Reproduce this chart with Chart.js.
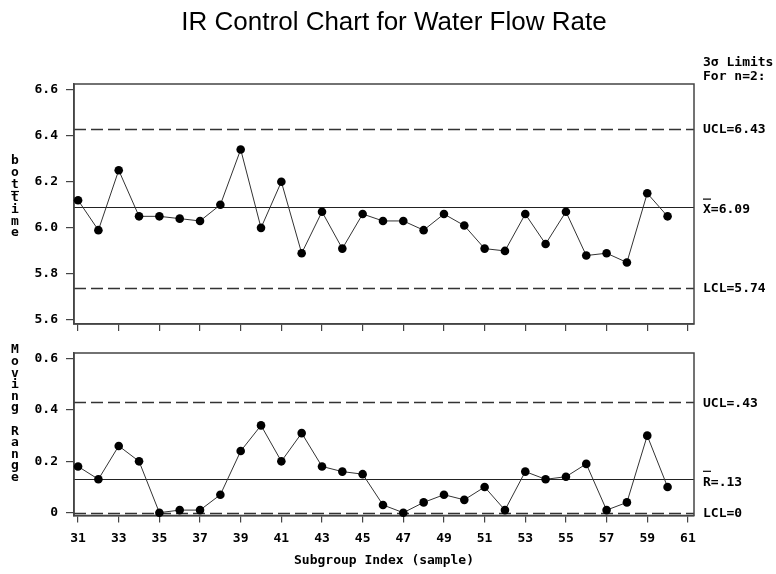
<!DOCTYPE html>
<html><head><meta charset="utf-8">
<script src="https://cdn.jsdelivr.net/npm/chart.js@4"></script>
<style>
html,body{margin:0;padding:0;background:#fff;}
#wrap{position:relative;width:776px;height:574px;background:#fff;}
canvas{position:absolute;left:0;top:0;}
</style></head><body>
<div id="wrap"><canvas id="c1" width="776" height="574"></canvas><canvas id="c2" width="776" height="574"></canvas></div>
<script>
// ---- data ----
const subgroups = [31,32,33,34,35,36,37,38,39,40,41,42,43,44,45,46,47,48,49,50,51,52,53,54,55,56,57,58,59,60];
const botTime = [6.12,5.99,6.25,6.05,6.05,6.04,6.03,6.10,6.34,6.00,6.20,5.89,6.07,5.91,6.06,6.03,6.03,5.99,6.06,6.01,5.91,5.90,6.06,5.93,6.07,5.88,5.89,5.85,6.15,6.05];
const movingRange = [0.18,0.13,0.26,0.20,0.00,0.01,0.01,0.07,0.24,0.34,0.20,0.31,0.18,0.16,0.15,0.03,0.00,0.04,0.07,0.05,0.10,0.01,0.16,0.13,0.14,0.19,0.01,0.04,0.30,0.10];
const xTicks = [31,33,35,37,39,41,43,45,47,49,51,53,55,57,59,61];
const topTicks = [5.6,5.8,6.0,6.2,6.4,6.6];
const topTickLabels = ['5.6','5.8','6.0','6.2','6.4','6.6'];
const botTicks = [0,0.2,0.4,0.6];
const botTickLabels = ['0','0.2','0.4','0.6'];
const topLimitValues = [6.43,6.09,5.74];
const topLimitLabels = ['UCL=6.43','X=6.09','LCL=5.74'];
const botLimitValues = [0.43,0.13,0];
const botLimitLabels = ['UCL=.43','R=.13','LCL=0'];

const MONO = 'bold 13px "DejaVu Sans Mono"';
const AX = '#444';

function pts(vals){ return subgroups.map((s,i)=>({x:s,y:vals[i]})); }

function limitPlugin(values, labels){
  return {
    id:'limits',
    beforeDatasetsDraw(chart){
      const {ctx, chartArea:a, scales:{y}} = chart;
      ctx.save();
      values.forEach((v,i)=>{
        const py = Math.round(y.getPixelForValue(v))+0.5;
        ctx.beginPath();
        ctx.strokeStyle = i===1 ? '#222' : '#333';
        ctx.lineWidth = i===1 ? 1.2 : 1.4;
        ctx.setLineDash(i===1 ? [] : [12,5]);
        ctx.moveTo(a.left, py); ctx.lineTo(a.right, py); ctx.stroke();
      });
      ctx.setLineDash([]);
      ctx.strokeStyle = AX; ctx.lineWidth = 1.5;
      ctx.strokeRect(a.left, a.top, a.right-a.left, a.bottom-a.top);
      ctx.fillStyle = '#000'; ctx.font = MONO; ctx.textAlign='left'; ctx.textBaseline='middle';
      values.forEach((v,i)=>{
        const py = y.getPixelForValue(v);
        const off = i===1 ? 3 : 1;
        ctx.fillText(labels[i], a.right+9, py+off);
        if(i===1){
          ctx.beginPath(); ctx.lineWidth=1.2; ctx.strokeStyle='#000';
          ctx.moveTo(a.right+9, py-8); ctx.lineTo(a.right+17, py-8); ctx.stroke();
        }
      });
      ctx.restore();
    }
  };
}

function stackedText(ctx, text, x, y0, step){
  ctx.save(); ctx.fillStyle='#000'; ctx.font=MONO; ctx.textAlign='center'; ctx.textBaseline='middle';
  let y=y0;
  for(const ch of text){ if(ch!==' ') ctx.fillText(ch, x, y); y+=step; }
  ctx.restore();
}

function makeScales(min,max,ticks,labels,showX,xh,yw){
  return {
    x:{type:'linear', min:30.8, max:61.3,
      afterBuildTicks:s=>{s.ticks = xTicks.map(v=>({value:v}));},
      afterFit:s=>{s.height = xh;},
      grid:{display:true, drawOnChartArea:false, drawTicks:true, tickLength:7, color:AX, lineWidth:1.2},
      border:{display:true, color:AX, width:1.5},
      ticks:{display:showX, padding:8, color:'#000', font:{family:'DejaVu Sans Mono', weight:'bold', size:13}, maxRotation:0, autoSkip:false, callback:v=>String(v)}
    },
    y:{type:'linear', min:min, max:max,
      afterBuildTicks:s=>{s.ticks = ticks.map(v=>({value:v}));},
      afterFit:s=>{s.width = yw;},
      grid:{display:true, drawOnChartArea:false, drawTicks:true, tickLength:8, color:AX, lineWidth:1.2},
      border:{display:true, color:AX, width:1.5},
      ticks:{padding:8, color:'#000', font:{family:'DejaVu Sans Mono', weight:'bold', size:13}, callback:(v,i)=>labels[i]}
    }
  };
}

const ds = vals => ({data:pts(vals), borderColor:'#333', borderWidth:1, backgroundColor:'#000', pointBackgroundColor:'#000', pointBorderWidth:0, pointRadius:4.3, tension:0, showLine:true, clip:false});

new Chart(document.getElementById('c1'), {
  type:'scatter',
  data:{datasets:[ds(botTime)]},
  options:{responsive:false, animation:false, devicePixelRatio:1,
    layout:{padding:{top:84, right:82, bottom:240, left:0}},
    plugins:{legend:{display:false}, tooltip:{enabled:false}},
    scales: makeScales(5.583, 6.624, topTicks, topTickLabels, false, 10, 74)
  },
  plugins:[limitPlugin(topLimitValues, topLimitLabels), {
    id:'texts',
    afterDraw(chart){
      const ctx = chart.ctx;
      ctx.save();
      ctx.fillStyle='#000'; ctx.font='26px "Liberation Sans"'; ctx.textAlign='center'; ctx.textBaseline='middle';
      ctx.fillText('IR Control Chart for Water Flow Rate', 394, 23);
      ctx.font=MONO; ctx.textAlign='left';
      ctx.fillText('3σ Limits', 703, 63);
      ctx.fillText('For n=2:', 703, 77);
      ctx.restore();
      stackedText(ctx, 'bot', 15, 161, 11.7);
      ctx.save(); ctx.strokeStyle='#000'; ctx.lineWidth=1.2; ctx.beginPath(); ctx.moveTo(11,191.5); ctx.lineTo(19,191.5); ctx.stroke(); ctx.restore();
      stackedText(ctx, 'time', 15, 198, 11.7);
    }
  }]
});

new Chart(document.getElementById('c2'), {
  type:'scatter',
  data:{datasets:[ds(movingRange)]},
  options:{responsive:false, animation:false, devicePixelRatio:1,
    layout:{padding:{top:353, right:82, bottom:0, left:0}},
    plugins:{legend:{display:false}, tooltip:{enabled:false}},
    scales: makeScales(-0.011, 0.622, botTicks, botTickLabels, true, 58.5, 74)
  },
  plugins:[limitPlugin(botLimitValues, botLimitLabels), {
    id:'texts2',
    afterDraw(chart){
      const ctx = chart.ctx;
      ctx.save(); ctx.fillStyle='#000'; ctx.font=MONO; ctx.textAlign='center'; ctx.textBaseline='middle';
      const a = chart.chartArea;
      ctx.fillText('Subgroup Index (sample)', (a.left+a.right)/2, 561);
      ctx.restore();
      stackedText(ctx, 'Moving Range', 15, 350, 11.6);
    }
  }]
});
</script>
</body></html>
